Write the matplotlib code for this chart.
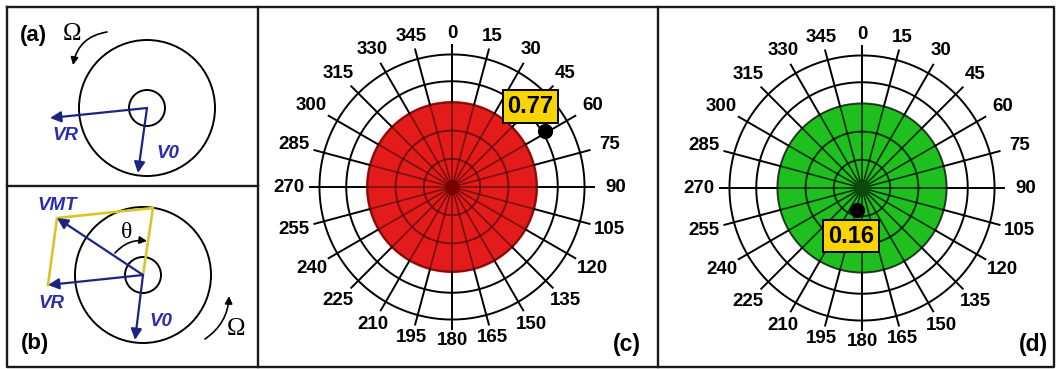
import numpy as np
import matplotlib.pyplot as plt
from matplotlib.patches import Circle, FancyArrowPatch

plt.rcParams['font.family'] = ['Liberation Sans', 'DejaVu Sans']

# angular grid of the two polar plots (degrees, clockwise from top)
angles = list(range(0, 360, 15))
angle_labels = [str(a) for a in angles]
ring_radii = [0.2, 0.4, 0.6, 0.75, 0.94]
spoke_length = 1.01

# one entry per polar panel
panel_names = ['(c)', '(d)']
disc_radius = [0.61, 0.60]
point_values = [0.77, 0.16]
point_angles = [59, 192]

disc_colors = ['#e31b1b', '#20bf20']
center_colors = ['#7a0000', '#0b4a0b']
inner_line_alpha = [0.45, 0.75]
label_offsets = [(-10.6, 17.8), (-4.5, -18.7)]   # points, box relative to dot

NAVY = '#1b2580'
BLUE = '#2b2bb0'
YELLOW = '#f8d400'
GOLD = '#d8c526'

W, H = 1056, 369
PX_PER_UNIT = 141.0
RMAX = 1.25

fig = plt.figure(figsize=(W / 100, H / 100), dpi=100)
base = fig.add_axes([0, 0, 1, 1])
base.set_xlim(0, W)
base.set_ylim(H, 0)
base.axis('off')

# panel frames
frame_kw = dict(color='#1a1a1a', lw=1.7, solid_capstyle='projecting')
base.plot([7, 1054, 1054, 7, 7], [7, 7, 367, 367, 7], **frame_kw)
base.plot([7, 258], [186, 186], **frame_kw)
base.plot([258, 258], [7, 367], **frame_kw)
base.plot([658, 658], [7, 367], **frame_kw)


def vector(start, end):
    base.annotate('', xy=end, xytext=start,
                  arrowprops=dict(arrowstyle='-|>', color=NAVY, lw=1.6,
                                  mutation_scale=16, shrinkA=0, shrinkB=0))


def curved(start, end, rad):
    base.add_patch(FancyArrowPatch(start, end, connectionstyle=f'arc3,rad={rad}',
                                   arrowstyle='-|>', mutation_scale=11,
                                   color='black', lw=1.2, shrinkA=0, shrinkB=0))


def vlabel(x, y, s):
    base.text(x, y, s, color=BLUE, fontsize=13.5, fontweight='bold',
              style='italic', ha='center', va='center')


# (a) rotor with V0 and VR
ca = (147, 108)
base.add_patch(Circle(ca, 68, fill=False, lw=1.4, color='black'))
base.add_patch(Circle(ca, 18, fill=False, lw=1.4, color='black'))
vector(ca, (50, 118))
vector(ca, (138, 173))
vlabel(65, 136, 'VR')
vlabel(168, 154, 'V0')
base.text(33, 36, '(a)', fontsize=16, fontweight='bold', ha='center', va='center')
base.text(72, 34, 'Ω', family='Liberation Serif', fontsize=18, ha='center', va='center')
curved((107, 32), (73, 65), 0.35)

# (b) vector sum VMT with angle theta
cb = (143, 275)
base.add_patch(Circle(cb, 68, fill=False, lw=1.4, color='black'))
base.add_patch(Circle(cb, 18, fill=False, lw=1.4, color='black'))
base.plot([cb[0], 153, 57, 48], [cb[1], 208, 218, 285], color=GOLD, lw=1.9)
vector(cb, (57, 218))
vector(cb, (48, 285))
vector(cb, (135, 340))
vlabel(57, 206, 'VMT')
vlabel(51, 303, 'VR')
vlabel(161, 321, 'V0')
base.text(127, 232, 'θ', family='Liberation Serif', fontsize=17, ha='center', va='center')
curved((115, 253), (147, 241), -0.26)
base.text(35, 343, '(b)', fontsize=16, fontweight='bold', ha='center', va='center')
base.text(236, 329, 'Ω', family='Liberation Serif', fontsize=18, ha='center', va='center')
curved((205, 339), (229, 296), 0.25)


def polar_panel(cx, cy, i):
    R = RMAX * PX_PER_UNIT
    ax = fig.add_axes([(cx - R) / W, (H - cy - R) / H, 2 * R / W, 2 * R / H],
                      projection='polar')
    ax.set_theta_zero_location('N')
    ax.set_theta_direction(-1)
    ax.set_ylim(0, RMAX)
    ax.set_axis_off()

    t = np.linspace(0, 2 * np.pi, 361)
    rd = disc_radius[i]
    ax.fill(t, np.full_like(t, rd), color=disc_colors[i], lw=0, zorder=1)

    for r in ring_radii:
        a = inner_line_alpha[i] if r <= rd + 0.01 else 1.0
        ax.plot(t, np.full_like(t, r), color='black', lw=1.4, alpha=a, zorder=2)
    for a in angles:
        th = np.deg2rad(a)
        ax.plot([th, th], [0, rd], color='black', lw=1.2,
                alpha=inner_line_alpha[i], zorder=2)
        ax.plot([th, th], [rd, spoke_length], color='black', lw=1.4, zorder=2)

    ax.scatter([0], [0], s=110, color=center_colors[i], zorder=3, lw=0)

    for a, lab in zip(angles, angle_labels):
        th = np.deg2rad(a)
        rl = 1.09 + 0.07 * abs(np.sin(th))
        ax.text(th, rl, lab, fontsize=13.5, fontweight='bold',
                ha='center', va='center', zorder=4)

    th = np.deg2rad(point_angles[i])
    ax.plot([th], [point_values[i]], 'o', color='black', ms=10, zorder=5)
    ax.annotate(f'{point_values[i]:.2f}', xy=(th, point_values[i]),
                xytext=label_offsets[i], textcoords='offset points',
                ha='center', va='center', fontsize=17, fontweight='bold', zorder=6,
                bbox=dict(boxstyle='square,pad=0.2', fc=YELLOW, ec='black', lw=1.4))
    return ax


polar_panel(452, 187, 0)
polar_panel(862, 188, 1)
base.text(627, 345, panel_names[0], fontsize=16.5, fontweight='bold', ha='center', va='center')
base.text(1033, 344, panel_names[1], fontsize=16.5, fontweight='bold', ha='center', va='center')

fig.savefig('out.png', dpi=100)
